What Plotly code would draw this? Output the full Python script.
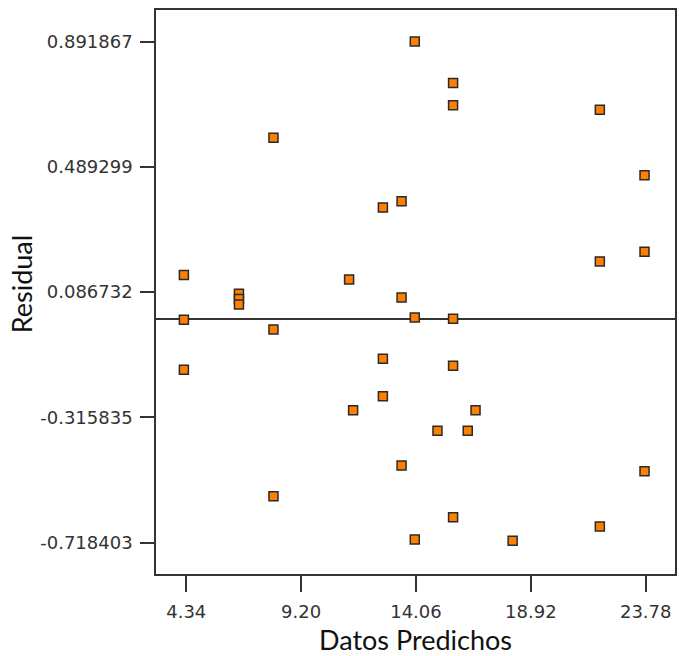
import plotly.graph_objects as go

# Predicted values (x) and residuals (y)
predichos = [14.01, 15.63, 15.63, 21.84, 8.03, 23.73, 13.45, 12.66, 23.73, 21.84,
             4.24, 11.23, 6.57, 6.57, 6.57, 13.45, 14.01, 15.63, 4.24, 8.03,
             12.66, 15.63, 4.24, 12.66, 11.40, 16.58, 14.97, 16.25, 13.45, 23.73,
             8.03, 15.63, 21.84, 14.01, 18.15]
residuales = [0.8923, 0.7591, 0.6874, 0.6729, 0.5828, 0.4622, 0.3786, 0.3586, 0.2168, 0.1856,
              0.1415, 0.1277, 0.0817, 0.0650, 0.0473, 0.0698, 0.0055, 0.0013, -0.0019, -0.0331,
              -0.1274, -0.1499, -0.1628, -0.2477, -0.2927, -0.2927, -0.3590, -0.3590, -0.4706, -0.4889,
              -0.5693, -0.6369, -0.6668, -0.7086, -0.7128]

x_ticks = [4.34, 9.20, 14.06, 18.92, 23.78]
x_tick_labels = ["4.34", "9.20", "14.06", "18.92", "23.78"]
y_ticks = [0.891867, 0.489299, 0.086732, -0.315835, -0.718403]
y_tick_labels = ["0.891867", "0.489299", "0.086732", "-0.315835", "-0.718403"]

fig = go.Figure()
fig.add_trace(go.Scatter(
    x=predichos, y=residuales, mode="markers",
    marker=dict(symbol="square", size=9, color="#FF8000",
                line=dict(color="#2a2a2a", width=1.5)),
    showlegend=False, hoverinfo="x+y",
))

tick_font = dict(family="DejaVu Sans", size=18, color="#333333")
title_font = dict(family="Lato", size=27, color="#111111")

fig.update_layout(
    width=679, height=656,
    margin=dict(l=156, r=2, t=10, b=82),
    paper_bgcolor="white", plot_bgcolor="white",
    xaxis=dict(
        range=[3.06, 25.02], tickvals=x_ticks, ticktext=x_tick_labels,
        ticks="outside", ticklen=16, tickwidth=1.5, tickcolor="#333333",
        showgrid=False, zeroline=False,
        showline=True, linecolor="#333333", linewidth=1.5, mirror=True,
        tickfont=tick_font, ticklabelstandoff=5,
        title=dict(text="Datos Predichos", font=title_font, standoff=10),
    ),
    yaxis=dict(
        range=[-0.8194, 0.9938], tickvals=y_ticks, ticktext=y_tick_labels,
        ticks="outside", ticklen=14, tickwidth=1.5, tickcolor="#333333",
        showgrid=False, zeroline=True, zerolinecolor="#333333", zerolinewidth=1.5,
        showline=True, linecolor="#333333", linewidth=1.5, mirror=True,
        tickfont=tick_font, ticklabelstandoff=4,
    ),
    annotations=[dict(
        text="Residual", textangle=-90, font=title_font, showarrow=False,
        xref="paper", yref="paper", x=-0.2589, y=0.513,
        xanchor="center", yanchor="middle",
    )],
)

fig.write_html("out.html")
